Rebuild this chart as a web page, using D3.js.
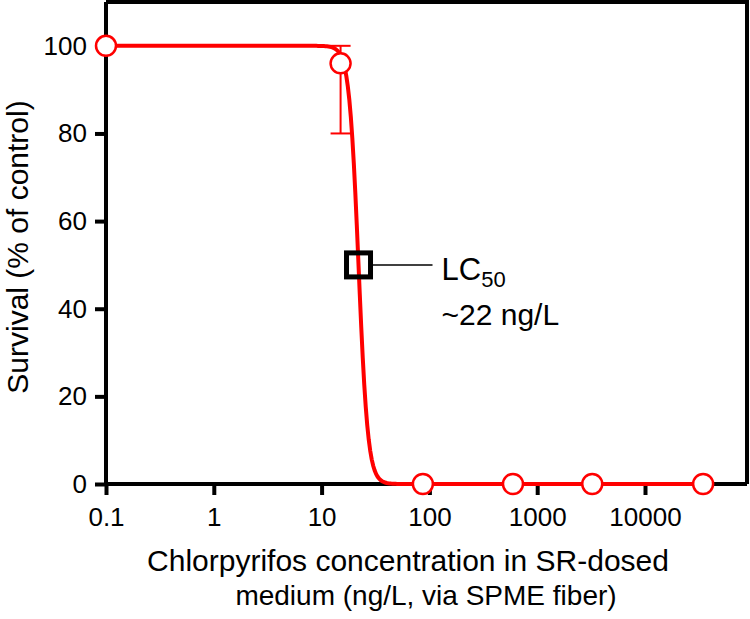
<!DOCTYPE html>
<html>
<head>
<meta charset="utf-8">
<script src="https://cdn.jsdelivr.net/npm/d3@7"></script>
<style>
  body { margin: 0; background: #fff; }
  svg { font-family: "Liberation Sans", Arial, sans-serif; }
  .axis path, .axis line { stroke: #000; stroke-width: 4px; }
  .axis text { font-size: 26px; fill: #000; }
</style>
</head>
<body>
<svg width="750" height="619"></svg>
<script>
// -------------------- DATA --------------------
const concentrations = [0.1, 15, 87, 596, 3240, 34600];   // ng/L
const survival = [100, 96, 0, 0, 0, 0];                    // % of control
const errLow = [null, 80, null, null, null, null];
const errHigh = [null, 100, null, null, null, null];

const xTicks = [0.1, 1, 10, 100, 1000, 10000];
const xTickLabels = ["0.1", "1", "10", "100", "1000", "10000"];
const yTicks = [0, 20, 40, 60, 80, 100];

// fitted dose-response (Hill) parameters
const fitTop = 100, fitBottom = 0, fitLC50 = 22, fitHill = 10;
const lc50Point = { x: 22, y: 50 };

// -------------------- LAYOUT --------------------
const svg = d3.select("svg");
const margin = { top: 2, right: 3, bottom: 135, left: 106 };
const W = 750 - margin.left - margin.right;
const H = 619 - margin.top - margin.bottom;

const x = d3.scaleLog().domain([0.1, 10000]).range([0, 539]);
const y = d3.scaleLinear().domain([0, 110]).range([H, 0]);

const g = svg.append("g").attr("transform", `translate(${margin.left},${margin.top})`);

// frame (top + right)
g.append("path")
  .attr("d", `M0,0H${W}V${H}`)
  .attr("fill", "none")
  .attr("stroke", "#000")
  .attr("stroke-width", 4);

// -------------------- AXES --------------------
const yAxis = g.append("g").attr("class", "axis")
  .call(d3.axisLeft(y).tickValues(yTicks).tickSize(11).tickSizeOuter(0).tickPadding(8));
yAxis.select(".domain").attr("d", `M0,${H}V0`);

const xAxis = g.append("g").attr("class", "axis")
  .attr("transform", `translate(0,${H})`)
  .call(d3.axisBottom(x).tickValues(xTicks).tickFormat((d, i) => xTickLabels[i])
    .tickSize(11).tickSizeOuter(0).tickPadding(13));
xAxis.select(".domain").attr("d", `M0,0H${W}`);
xAxis.selectAll("text").attr("dy", "0.71em");

// axis titles
svg.append("text")
  .attr("transform", "translate(28,247) rotate(-90)")
  .attr("text-anchor", "middle")
  .style("font-size", "30px")
  .text("Survival (% of control)");

svg.append("text")
  .attr("x", 408).attr("y", 571)
  .attr("text-anchor", "middle")
  .style("font-size", "30px")
  .text("Chlorpyrifos concentration in SR-dosed");
svg.append("text")
  .attr("x", 426).attr("y", 605)
  .attr("text-anchor", "middle")
  .style("font-size", "28px")
  .text("medium (ng/L, via SPME fiber)");

// -------------------- FIT CURVE --------------------
const hill = c => fitBottom + (fitTop - fitBottom) / (1 + Math.pow(c / fitLC50, fitHill));
const curveX = d3.range(0, 401).map(i => Math.pow(10, Math.log10(0.1) + i * (Math.log10(34600) - Math.log10(0.1)) / 400));
const line = d3.line().x(d => x(d)).y(d => y(hill(d)));

g.append("path")
  .datum(curveX)
  .attr("d", line)
  .attr("fill", "none")
  .attr("stroke", "#ff0000")
  .attr("stroke-width", 4);

// -------------------- ERROR BARS --------------------
const pts = concentrations.map((c, i) => ({ c, s: survival[i], lo: errLow[i], hi: errHigh[i] }));
const eb = g.append("g").selectAll("g")
  .data(pts.filter(d => d.lo !== null))
  .enter().append("g")
  .attr("stroke", "#ff0000")
  .attr("stroke-width", 2);
eb.append("line")
  .attr("x1", d => x(d.c)).attr("x2", d => x(d.c))
  .attr("y1", d => y(d.lo)).attr("y2", d => y(d.hi));
eb.append("line")
  .attr("x1", d => x(d.c) - 10).attr("x2", d => x(d.c) + 10)
  .attr("y1", d => y(d.hi)).attr("y2", d => y(d.hi));
eb.append("line")
  .attr("x1", d => x(d.c) - 10).attr("x2", d => x(d.c) + 10)
  .attr("y1", d => y(d.lo)).attr("y2", d => y(d.lo));

// -------------------- POINTS --------------------
g.append("g").selectAll("circle")
  .data(pts)
  .enter().append("circle")
  .attr("cx", d => x(d.c))
  .attr("cy", d => y(d.s))
  .attr("r", 10)
  .attr("fill", "#fff")
  .attr("stroke", "#ff0000")
  .attr("stroke-width", 2.5);

// -------------------- LC50 MARKER --------------------
const lx = x(lc50Point.x), ly = y(lc50Point.y);
g.append("line")
  .attr("x1", lx + 14).attr("x2", lx + 74)
  .attr("y1", ly).attr("y2", ly)
  .attr("stroke", "#000").attr("stroke-width", 1.5);
g.append("rect")
  .attr("x", lx - 12).attr("y", ly - 12)
  .attr("width", 24).attr("height", 24)
  .attr("fill", "none")
  .attr("stroke", "#000")
  .attr("stroke-width", 5);

const lab = g.append("text")
  .attr("x", lx + 83).attr("y", ly + 15)
  .style("font-size", "31px");
lab.append("tspan").text("LC");
lab.append("tspan").attr("dy", 7).style("font-size", "22px").text("50");
g.append("text")
  .attr("x", lx + 83).attr("y", ly + 60)
  .style("font-size", "30px")
  .text("~22 ng/L");
</script>
</body>
</html>
